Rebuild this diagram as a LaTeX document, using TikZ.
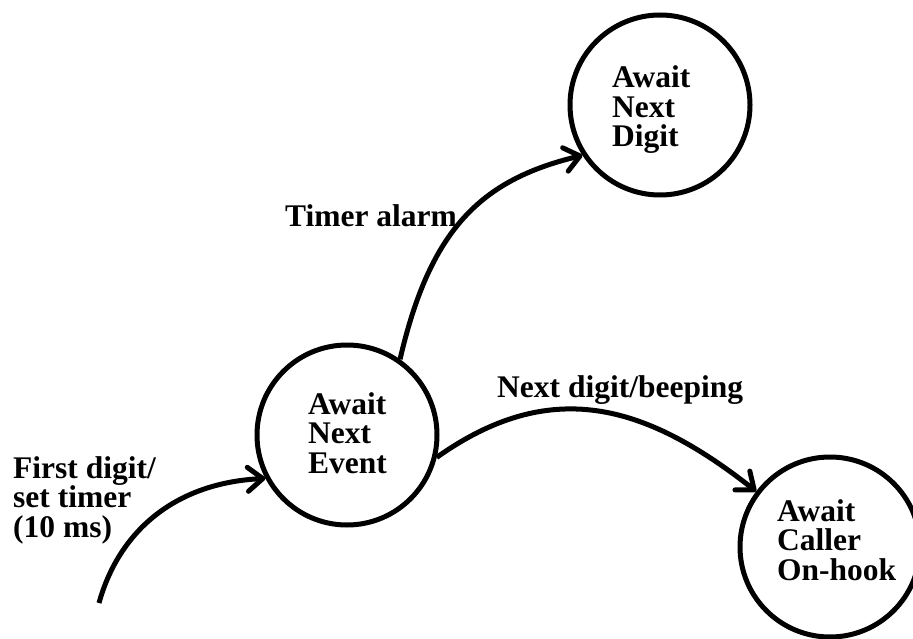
\documentclass[tikz,border=0pt]{standalone}
\usepackage{fontspec}
\setmainfont{Liberation Serif}
\usetikzlibrary{arrows.meta}
\begin{document}
\begin{tikzpicture}[x=1pt,y=-1pt,
  state/.style={circle,draw,line width=5pt,minimum size=180pt,inner sep=0pt},
  txt/.style={font=\fontsize{31.5}{29.5}\selectfont\bfseries,align=left,inner sep=0pt,anchor=base west},
  edge/.style={line width=5pt,-{Straight Barb[round,length=15pt,width=24pt]}}]
\useasboundingbox (0,0) rectangle (913,639);
\node[state] (evt) at (347,435) {};
\node[state] (dig) at (660,105) {};
\node[state] (cal) at (830,547) {};
\node[txt] (evtT) at (308,473) {Await\\Next\\Event};
\node[txt] (digT) at (612,147) {Await\\Next\\Digit};
\node[txt] (calT) at (777,580) {Await\\Caller\\On-hook};
\node[txt] (lTimer) at (285,227) {Timer alarm};
\node[txt] (lNext) at (497,397) {Next digit/beeping};
\node[txt] (lFirst) at (13,537) {First digit/\\set timer\\(10 ms)};
\coordinate (s0) at (99,603);
\draw[edge] (s0) .. controls (119,531) and (175,483) .. (evt.208);
\draw[edge] (evt.55) .. controls (430,230) and (480,180) .. (dig.213);
\draw[edge] (evt.-14) .. controls (550,377) and (644,403) .. (cal.143);
\end{tikzpicture}
\end{document}
